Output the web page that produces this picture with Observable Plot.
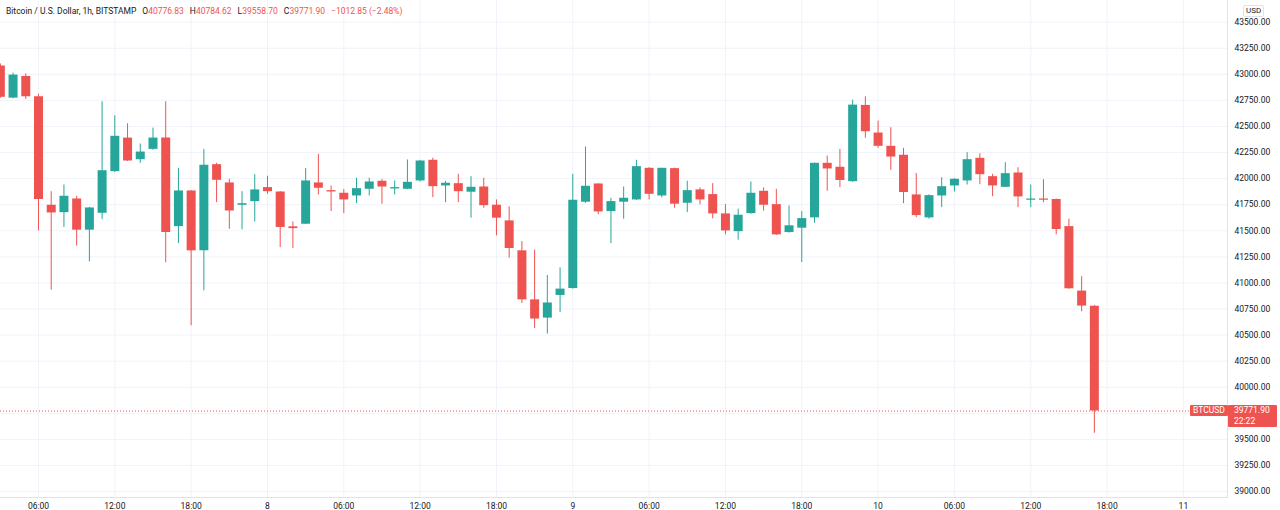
<!DOCTYPE html>
<html>
<head>
<meta charset="utf-8">
<script src="https://cdn.jsdelivr.net/npm/d3@7"></script>
<script src="https://cdn.jsdelivr.net/npm/@observablehq/plot@0.6"></script>
<style>
  body { margin: 0; background: #fff; font-family: Roboto, "Liberation Sans", sans-serif; }
  #wrap { position: relative; width: 1280px; height: 510px; overflow: hidden; }
  #header { position: absolute; left: 6px; top: 6px; font-size: 8.5px; line-height: 10px; color: #131722; white-space: pre; }
  #header .k { margin-left: 6px; }
  #header .v { color: #ef5350; }
  #usd { position: absolute; font-size: 8px; line-height: 10px; color: #131722; border: 1px solid #e0e3eb; border-radius: 2px; padding: 0 2px; background: #fff; }
  .tag { position: absolute; background: #ef5350; color: #fff; font-size: 8.5px; line-height: 11px; border-radius: 1px; }
</style>
</head>
<body>
<div id="wrap"></div>
<script>
// ---- data (BTC/USD, 1h, Bitstamp) ----
const firstCandle = "2022-01-07T03:00:00Z"; // hourly candles from here
const opens  = [43080,42772,42980,42785,41745,41674,41805,41506,41668,42067,42389,42182,42281,42389,41540,41882,41308,42134,41959,41745,
                41780,41914,41872,41538,41563,41959,41885,41860,41834,41898,41975,41901,41898,41978,42176,41930,41952,41870,41920,41745,
                41595,41308,40838,40663,40880,40947,41774,41949,41684,41774,41796,42099,41834,42096,41764,41892,41847,41662,41492,41665,
                41879,41751,41483,41525,41624,42147,42109,41971,42702,42437,42310,42224,41844,41624,41834,41930,41978,42195,42019,41917,
                42054,41793,41805,41800,41540,40922,40776.83];
const highs  = [43100,43012,43005,42808,41875,41939,41831,41725,42737,42603,42526,42332,42485,42737,42099,41885,42281,42147,41994,41875,
                42038,42023,41875,41585,42096,42233,41930,41895,42004,42004,41991,41978,42179,42175,42195,41975,42042,42019,42004,41796,
                41729,41397,41314,41071,41145,42042,42303,41950,41812,41920,42176,42105,42100,42100,41975,41911,41952,41751,41707,41968,
                41911,41898,41738,41684,42150,42217,42281,42753,42785,42552,42488,42291,42048,41844,42009,42000,42249,42239,42042,42153,
                42105,41939,41990,41805,41611,41059,40784.62];
const lows   = [42770,42765,42760,41499,40931,41532,41353,41202,41607,42060,42165,42147,42272,41193,41377,40590,40925,41770,41515,41509,
                41585,41850,41339,41330,41560,41844,41685,41665,41760,41834,41755,41844,41895,41968,41818,41770,41770,41621,41716,41451,
                41238,40803,40564,40510,40717,40940,41764,41655,41377,41611,41790,41796,41815,41716,41674,41748,41614,41462,41410,41660,
                41689,41455,41478,41196,41573,41879,41914,41965,42387,42291,42080,41760,41626,41611,41722,41872,41939,41942,41827,41915,
                41722,41722,41770,41461,40940,40724,39558.70];
const closes = [42780,42993,42785,41799,41671,41831,41506,41719,42076,42406,42169,42255,42389,41483,41882,41308,42128,41984,41690,41760,
                41892,41875,41532,41521,41978,41908,41872,41796,41904,41968,41920,41914,41965,42169,41923,41956,41875,41917,41741,41621,
                41330,40838,40654,40808,40941,41793,41927,41681,41780,41812,42115,41850,42099,41755,41885,41796,41662,41499,41649,41860,
                41745,41461,41548,41617,42147,42093,41982,42705,42450,42310,42207,41867,41646,41837,41923,41994,42182,42038,41930,42048,
                41825,41805,41793,41512,40944,40778,39771.90];
const priceTicks = d3.range(39000, 43501, 250);
const timeTicks = d3.utcHour.every(6).range(new Date("2022-01-07T06:00:00Z"), new Date("2022-01-11T01:00:00Z"));
const timeLabel = d => d.getUTCHours() === 0 ? String(d.getUTCDate()) : d3.utcFormat("%H:%M")(d);
const symbol = "BTCUSD";
const headerName = "Bitcoin / U.S. Dollar, 1h, BITSTAMP";
const changeText = "\u22121012.85 (\u22122.48%)";
const countdown = "22:22";

const UP = "#26a69a", DOWN = "#ef5350", GRID = "#f0f3fa", TEXT = "#131722";

const t0 = new Date(firstCandle).getTime();
const candles = opens.map((o, i) => ({
  time: new Date(t0 + i * 3600e3),
  open: o, high: highs[i], low: lows[i], close: closes[i],
  color: closes[i] >= o ? UP : DOWN
}));
const last = candles[candles.length - 1];
// the last-price tag covers the price label it sits on
const labelTicks = priceTicks.filter(v => Math.abs(v - last.close) > 120);

const plot = Plot.plot({
  width: 1280,
  height: 510,
  marginLeft: 0,
  marginRight: 53,
  marginTop: 0,
  marginBottom: 13,
  style: { fontFamily: "Roboto, 'Liberation Sans', sans-serif", fontSize: "8.5px", color: TEXT, background: "#fff", overflow: "visible" },
  x: { type: "utc", domain: [new Date("2022-01-07T03:00:47Z"), new Date("2022-01-11T03:28:00Z")] },
  y: { domain: [38943, 43708] },
  marks: [
    Plot.gridX(timeTicks, { stroke: GRID, strokeOpacity: 1 }),
    Plot.gridY(priceTicks, { stroke: GRID, strokeOpacity: 1 }),
    Plot.frame({ anchor: "right", stroke: "#e0e3eb" }),
    Plot.frame({ anchor: "bottom", stroke: "#e0e3eb" }),
    Plot.axisX(timeTicks, { tickSize: 0, tickPadding: 5, tickFormat: timeLabel, label: null, fill: TEXT }),
    Plot.axisY(labelTicks, { anchor: "right", tickSize: 0, tickPadding: 7, tickFormat: d => d.toFixed(2), label: null, fill: TEXT }),
    Plot.ruleY([last.close], { stroke: DOWN, strokeDasharray: "1,2", strokeWidth: 1 }),
    Plot.ruleX(candles, { x: "time", y1: "low", y2: "high", stroke: "color", strokeWidth: 1 }),
    Plot.ruleX(candles, { x: "time", y1: "open", y2: "close", stroke: "color", strokeWidth: 9 })
  ]
});

const wrap = document.getElementById("wrap");
wrap.appendChild(plot);

// header (legend line)
const fmt = d3.format(".2f");
const header = document.createElement("div");
header.id = "header";
header.innerHTML = `<span>${headerName}</span>` +
  `<span class="k">O</span><span class="v">${fmt(last.open)}</span>` +
  `<span class="k">H</span><span class="v">${fmt(last.high)}</span>` +
  `<span class="k">L</span><span class="v">${fmt(last.low)}</span>` +
  `<span class="k">C</span><span class="v">${fmt(last.close)}</span>` +
  `<span class="v" style="margin-left:6px">${changeText}</span>`;
wrap.appendChild(header);

// currency label
const usd = document.createElement("div");
usd.id = "usd";
usd.textContent = "USD";
usd.style.left = "1243px";
usd.style.top = "5px";
wrap.appendChild(usd);

// last price tags, positioned through the plot's own scales
const yPx = plot.scale("y").apply(last.close);
const xRight = plot.scale("x").range[1];
const symTag = document.createElement("div");
symTag.className = "tag";
symTag.textContent = symbol;
symTag.style.left = (xRight - 37) + "px";
symTag.style.top = (yPx - 5.5) + "px";
symTag.style.padding = "0 3px";
wrap.appendChild(symTag);

const priceTag = document.createElement("div");
priceTag.className = "tag";
priceTag.innerHTML = `${fmt(last.close)}<br>${countdown}`;
priceTag.style.left = (xRight + 1) + "px";
priceTag.style.top = (yPx - 5.5) + "px";
priceTag.style.width = "40px";
priceTag.style.padding = "0 3px 0 6px";
wrap.appendChild(priceTag);
</script>
</body>
</html>
